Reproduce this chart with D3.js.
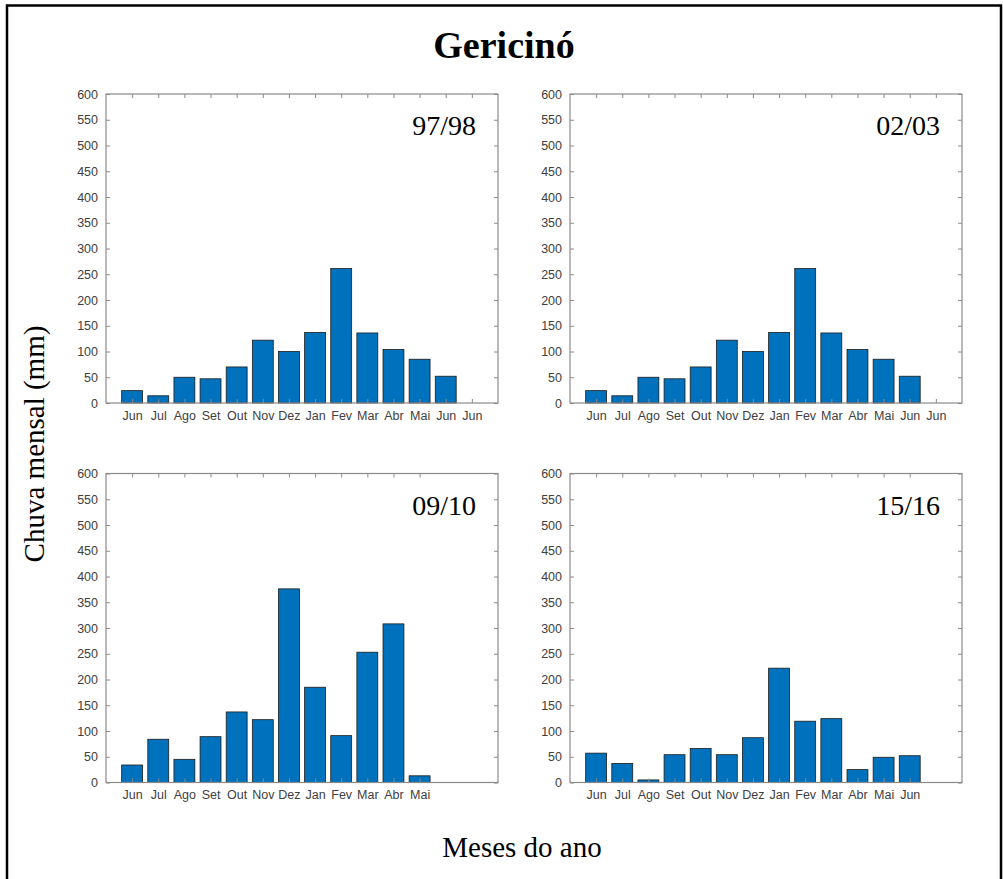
<!DOCTYPE html>
<html>
<head>
<meta charset="utf-8">
<script src="https://cdn.jsdelivr.net/npm/d3@7"></script>
<style>
    body{margin:0;background:#fff;}
</style>
</head>
<body>
<div id="chart"></div>
<script>
// months shown under each panel (first year June to next year June)
let months_full = ['Jun','Jul','Ago','Set','Out','Nov','Dez','Jan','Fev','Mar','Abr','Mai','Jun','Jun'];
let months_1213 = ['Jun','Jul','Ago','Set','Out','Nov','Dez','Jan','Fev','Mar','Abr','Mai','Jun'];
let months_0910 = ['Jun','Jul','Ago','Set','Out','Nov','Dez','Jan','Fev','Mar','Abr','Mai'];

// monthly rain (mm), null = no bar
let rain_9798 = [24,14,50,47,70,122,100,137,261,136,104,85,52,null];
let rain_0203 = [24,14,50,47,70,122,100,137,261,136,104,85,52,null];
let rain_0910 = [34,84,45,89,137,122,376,185,91,253,308,13];
let rain_1516 = [57,37,5,54,66,54,87,222,119,124,25,49,52];

let panel_names = ['97/98','02/03','09/10','15/16'];
let y_ticks = [0,50,100,150,200,250,300,350,400,450,500,550,600];

let width = 1003;
let height = 879;
let panel_w = 392;
let panel_h = 309;
let col_x = [106,570];
let row_y = [94,473.5];

let svg = d3.select('#chart')
    .append('svg')
    .attr('width',width)
    .attr('height',height);

svg.append('rect')
    .attr('x',7)
    .attr('y',5.5)
    .attr('width',994)
    .attr('height',height+20)
    .attr('fill','#fff')
    .attr('stroke','#000')
    .attr('stroke-width',2.5);

svg.append('text')
    .text('Gericinó')
    .attr('x',504)
    .attr('y',58)
    .attr('text-anchor','middle')
    .style('font-family','"Liberation Serif", "Times New Roman", serif')
    .style('font-weight','bold')
    .style('font-size','38px');

svg.append('text')
    .text('Chuva mensal (mm)')
    .attr('transform','translate(44,444) rotate(-90)')
    .attr('text-anchor','middle')
    .style('font-family','"Liberation Serif", "Times New Roman", serif')
    .style('font-size','29px');

svg.append('text')
    .text('Meses do ano')
    .attr('x',522)
    .attr('y',857)
    .attr('text-anchor','middle')
    .style('font-family','"Liberation Serif", "Times New Roman", serif')
    .style('font-size','29px');

draw_panel(col_x[0],row_y[0],months_full,rain_9798,panel_names[0]);
draw_panel(col_x[1],row_y[0],months_full,rain_0203,panel_names[1]);
draw_panel(col_x[0],row_y[1],months_0910,rain_0910,panel_names[2]);
draw_panel(col_x[1],row_y[1],months_1213,rain_1516,panel_names[3]);

function draw_panel(x0,y0,labels,values,name){
    const xScale = d3.scaleLinear().domain([0,15]).range([0,panel_w]);
    const yScale = d3.scaleLinear().domain([0,600]).range([panel_h,0]);
    const bar_w = xScale(0.8)-xScale(0);
    const tick_color = '#8a8a8a';
    const label_color = '#404040';

    let g = svg.append('g')
        .attr('transform','translate('+x0+','+y0+')');

    let data = labels.map(function(m,i){
        return {'pos':i+1,'month':m,'value':values[i]};
    });

    g.append('g')
        .selectAll('rect')
        .data(data.filter(d=>d.value!==null))
        .enter()
        .append('rect')
        .attr('x',d=>xScale(d.pos)-bar_w/2)
        .attr('y',d=>yScale(d.value))
        .attr('width',bar_w)
        .attr('height',d=>yScale(0)-yScale(d.value))
        .attr('fill','#0072BD')
        .attr('stroke','#1b1b1b')
        .attr('stroke-width',0.8);

    // box
    g.append('rect')
        .attr('x',0)
        .attr('y',0)
        .attr('width',panel_w)
        .attr('height',panel_h)
        .attr('fill','none')
        .attr('stroke',tick_color)
        .attr('stroke-width',1.2);

    // y ticks, left and right, pointing inward
    let yAxisL = d3.axisLeft(yScale).tickValues(y_ticks).tickSizeInner(-4).tickSizeOuter(0).tickPadding(8);
    let yl = g.append('g').call(yAxisL);
    yl.select('.domain').remove();
    yl.selectAll('line').attr('stroke',tick_color);
    yl.selectAll('text')
        .attr('fill',label_color)
        .style('font-family','"Liberation Sans", Arial, sans-serif')
        .style('font-size','12.5px');

    let yAxisR = d3.axisRight(yScale).tickValues(y_ticks).tickSizeInner(-4).tickSizeOuter(0).tickFormat('');
    let yr = g.append('g').attr('transform','translate('+panel_w+',0)').call(yAxisR);
    yr.select('.domain').remove();
    yr.selectAll('line').attr('stroke',tick_color);

    // x ticks bottom with month names, top mirrored
    let positions = data.map(d=>d.pos);
    let xAxisB = d3.axisBottom(xScale).tickValues(positions)
        .tickFormat((d,i)=>labels[i])
        .tickSizeInner(-4).tickSizeOuter(0).tickPadding(8);
    let xb = g.append('g').attr('transform','translate(0,'+panel_h+')').call(xAxisB);
    xb.select('.domain').remove();
    xb.selectAll('line').attr('stroke',tick_color);
    xb.selectAll('text')
        .attr('fill',label_color)
        .style('font-family','"Liberation Sans", Arial, sans-serif')
        .style('font-size','12.5px');

    let xAxisT = d3.axisTop(xScale).tickValues(positions).tickFormat('')
        .tickSizeInner(-4).tickSizeOuter(0);
    let xt = g.append('g').call(xAxisT);
    xt.select('.domain').remove();
    xt.selectAll('line').attr('stroke',tick_color);

    g.append('text')
        .text(name)
        .attr('x',panel_w-22)
        .attr('y',41)
        .attr('text-anchor','end')
        .style('font-family','"Liberation Serif", "Times New Roman", serif')
        .style('font-size','28px');
}
</script>
</body>
</html>
